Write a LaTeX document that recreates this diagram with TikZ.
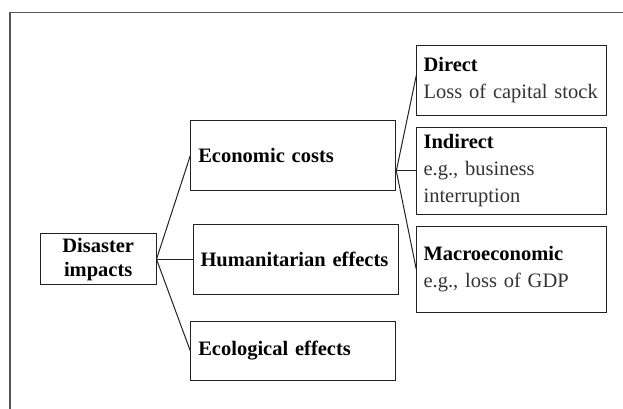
\documentclass[tikz,border=0pt]{standalone}
\usepackage{fontspec}
\setmainfont{Liberation Serif}
\usepackage{tikz}
\usetikzlibrary{positioning}
\definecolor{txtgray}{HTML}{333333}
\definecolor{linegray}{HTML}{222222}
\definecolor{framegray}{HTML}{555555}
\tikzset{
    box/.style={draw=linegray, line width=1pt, font=\fontsize{20.5}{27}\selectfont, text=black},
    rootbox/.style={box, minimum width=115.6pt, minimum height=50.5pt, align=center, inner sep=0pt, font=\fontsize{20.5}{24}\selectfont\bfseries},
    effbox/.style={box, text width=190pt, inner xsep=7.5pt, minimum height=70pt, align=left, font=\fontsize{20.5}{27}\selectfont\bfseries},
    subbox/.style={box, text width=176pt, inner xsep=6.75pt, minimum height=69.6pt, align=left},
    link/.style={draw=linegray, line width=1pt},
    frame/.style={draw=framegray, line width=1.2pt}
}

\begin{document}
\begin{tikzpicture}[x=1pt,y=1pt]
    \useasboundingbox (0,0) rectangle (623,-409);
    \coordinate (fb) at (10,-409);
    \coordinate (fc) at (10,-12.7);
    \coordinate (fr) at (623,-12.7);
    \draw[frame] (fb) -- (fc) -- (fr);

    \node[rootbox] (imp) at (98.2,-259.2) {Disaster\\impacts};
    \node[effbox, right=36pt of imp] (hum) {Humanitarian effects};
    \node[effbox, above=32.6pt of hum, xshift=-2.2pt] (econ) {Economic costs};
    \node[effbox, below=26.3pt of hum, xshift=-2.2pt, minimum height=58.8pt] (eco) {Ecological effects};

    \node[subbox, right=20pt of econ, yshift=-15.3pt, minimum height=86.5pt] (ind)
        {\textbf{Indirect}\\{\color{txtgray}e.g., business\\interruption}};
    \node[subbox, above=11.5pt of ind] (dir)
        {\textbf{Direct}\\{\color{txtgray}Loss of capital stock}};
    \node[subbox, below=11pt of ind, minimum height=86.6pt] (mac)
        {\textbf{Macroeconomic}\\{\color{txtgray}e.g., loss of GDP}};

    \draw[link] (imp.east) -- (econ.west);
    \draw[link] (imp.east) -- (hum.west);
    \draw[link] (imp.east) -- (eco.west);

    \coordinate (fan) at (econ.east |- ind.west);
    \draw[link] (fan) -- ([yshift=5pt]dir.west);
    \draw[link] (fan) -- (ind.west);
    \draw[link] (fan) -- (mac.west);
\end{tikzpicture}
\end{document}
